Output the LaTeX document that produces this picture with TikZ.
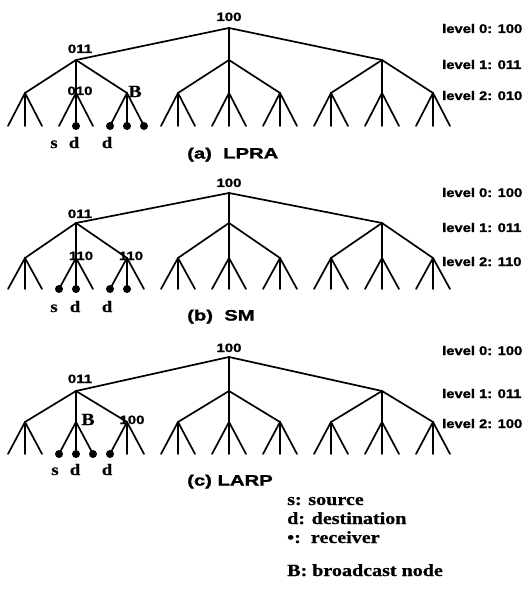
\documentclass[tikz,border=0pt]{standalone}
\usepackage{fontspec}
\setmainfont{Liberation Serif}
\newfontfamily\numfont[FakeStretch=1.25,FakeBold=1.2]{Liberation Sans}
\newfontfamily\capfont[FakeStretch=1.35,FakeBold=1.5]{Liberation Sans}
\newfontfamily\lvlfont[FakeStretch=1.18,FakeBold=1.5]{Liberation Sans}
\newfontfamily\legfont[FakeStretch=1.18,FakeBold=0.8]{Liberation Serif}

\tikzset{
  edge/.style={line width=1.7pt, line cap=round, line join=round},
  recv/.style={circle, fill=black, inner sep=0pt, minimum size=8pt},
  numlab/.style={font=\numfont\bfseries\fontsize{12}{12}\selectfont, inner sep=0pt, anchor=base},
  bcast/.style={font=\legfont\bfseries\fontsize{17}{17}\selectfont, inner sep=0pt, anchor=base},
  letter/.style={font=\legfont\bfseries\fontsize{16}{16}\selectfont, inner sep=0pt, anchor=base},
  caption/.style={font=\capfont\bfseries\fontsize{15}{15}\selectfont, inner sep=0pt, anchor=base west},
  lvl/.style={font=\lvlfont\bfseries\fontsize{12.5}{12.5}\selectfont, inner sep=0pt, anchor=base west},
  legend/.style={font=\legfont\bfseries\fontsize{17}{17}\selectfont, inner sep=0pt, anchor=base west},
}

% Three-level ternary hierarchy: #1 name prefix, #2 root y, #3 level-1 y,
% #4 level-2 y, #5 leaf y
\newcommand\hiertree[5]{%
  \coordinate (#1r) at (229,#2);
  \foreach \i/\x in {1/76,2/229,3/382}{%
    \coordinate (#1n\i) at (\x,#3);
    \draw[edge] (#1r) -- (#1n\i);
    \foreach \j/\xx in {1/\x-51,2/\x,3/\x+51}{%
      \coordinate (#1n\i\j) at (\xx,#4);
      \draw[edge] (#1n\i) -- (#1n\i\j);
      \foreach \k/\ex in {1/-17,2/0,3/17}{%
        \coordinate (#1n\i\j\k) at (\xx+\ex,#5);
        \draw[edge] (#1n\i\j) -- (#1n\i\j\k);
      }%
    }%
  }%
}

\begin{document}
\begin{tikzpicture}[x=1pt,y=-1pt]
\path[use as bounding box] (0,0) rectangle (526,593);

% ---------- (a) LPRA ----------
\hiertree{a}{28}{60}{93}{126}
\foreach \p in {an122,an131,an132,an133}{\node[recv] (dot-\p) at (\p) {};}
\node[numlab] (a-root) at (229,21) {100};
\node[numlab] (a-l1) at (80,53) {011};
\node[numlab] (a-l2) at (80,95) {010};
\node[bcast] (a-B) at (135,97) {B};
\node[letter] (a-s) at (54,148) {s};
\node[letter] (a-d1) at (74,148) {d};
\node[letter] (a-d2) at (107,148) {d};
\node[caption] (a-cap) at (187,158.5) {(a)\ \ LPRA};
\node[lvl] (a-lv0) at (442,33) {level 0: 100};
\node[lvl] (a-lv1) at (442,69) {level 1: 011};
\node[lvl] (a-lv2) at (442,100) {level 2: 010};

% ---------- (b) SM ----------
\hiertree{b}{193}{223}{258}{289}
\foreach \p in {bn121,bn122,bn131,bn132}{\node[recv] (dot-\p) at (\p) {};}
\node[numlab] (b-root) at (229,187) {100};
\node[numlab] (b-l1) at (80,218) {011};
\node[numlab] (b-l2a) at (81,260) {110};
\node[numlab] (b-l2b) at (131,260) {110};
\node[letter] (b-s) at (54,312) {s};
\node[letter] (b-d1) at (75,312) {d};
\node[letter] (b-d2) at (107,312) {d};
\node[caption] (b-cap) at (187,320.5) {(b)\ \ SM};
\node[lvl] (b-lv0) at (442,197) {level 0: 100};
\node[lvl] (b-lv1) at (442,232) {level 1: 011};
\node[lvl] (b-lv2) at (442,266) {level 2: 110};

% ---------- (c) LARP ----------
\hiertree{c}{357}{391}{422}{454}
\foreach \p in {cn121,cn122,cn123,cn131}{\node[recv] (dot-\p) at (\p) {};}
\node[numlab] (c-root) at (229,352) {100};
\node[numlab] (c-l1) at (80,383) {011};
\node[bcast] (c-B) at (88,425) {B};
\node[numlab] (c-l2) at (132,424) {100};
\node[letter] (c-s) at (55,475) {s};
\node[letter] (c-d1) at (75,475) {d};
\node[letter] (c-d2) at (107,475) {d};
\node[caption] (c-cap) at (187,485.5) {(c) LARP};
\node[lvl] (c-lv0) at (442,355) {level 0: 100};
\node[lvl] (c-lv1) at (442,398) {level 1: 011};
\node[lvl] (c-lv2) at (442,428) {level 2: 100};

% ---------- legend ----------
\node[legend] (leg-s) at (287,505) {s: source};
\node[legend] (leg-d) at (287,524) {d: destination};
\node[legend] (leg-r) at (287,543) {•:\ \ receiver};
\node[legend] (leg-b) at (287,576) {B: broadcast node};
\end{tikzpicture}
\end{document}
